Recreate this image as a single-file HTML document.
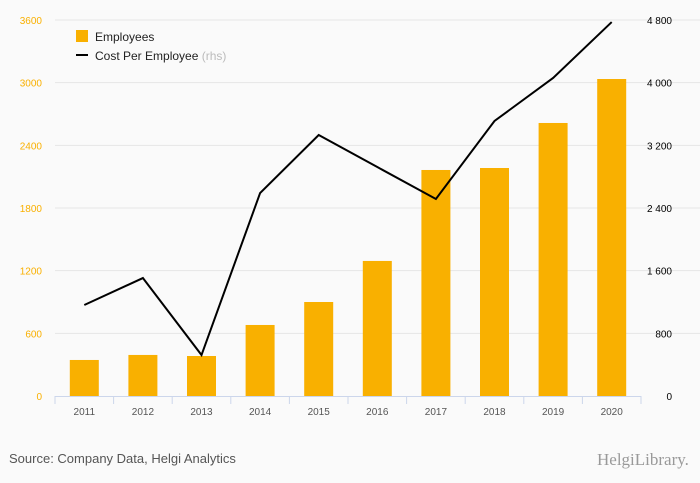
<!DOCTYPE html>
<html><head><meta charset="utf-8"><style>
body{margin:0;background:#fafafa;font-family:"Liberation Sans",sans-serif}
svg{display:block}
</style></head><body>
<svg id="c" width="700" height="483">
<rect width="700" height="483" fill="#fafafa"/>
<g id="grid"></g><g id="bars"></g><g id="line"></g><g id="axes"></g>
<g>
<rect x="76" y="30" width="12" height="12" fill="#f9b000"/>
<text x="95" y="41" font-size="12" fill="#222">Employees</text>
<rect x="76" y="54" width="12" height="2" fill="#000"/>
<text x="95" y="60" font-size="12" fill="#222">Cost Per Employee <tspan fill="#bbb">(rhs)</tspan></text>
</g>
<text x="9" y="463" font-size="13" fill="#555">Source: Company Data, Helgi Analytics</text>
<text x="597" y="465" font-size="17" fill="#999" font-family="Liberation Serif,serif">HelgiLibrary.</text>
</svg>
<script>
const years=["2011","2012","2013","2014","2015","2016","2017","2018","2019","2020"];
const employees=[345,393,383,680,900,1293,2164,2183,2614,3035];
const costPerEmployee=[1162,1506,523,2591,3332,2923,2515,3511,4060,4774];
const leftTicks=[0,600,1200,1800,2400,3000,3600];
const rightTicks=[0,800,1600,2400,3200,4000,4800];
const rightTickLabels=["0","800","1 600","2 400","3 200","4 000","4 800"];
const NS="http://www.w3.org/2000/svg";
const x0=55,x1=641,yT=20,yB=396;
const band=(x1-x0)/years.length;
const xC=i=>x0+band*(i+0.5);
const yL=v=>yB-(v/3600)*(yB-yT);
const yR=v=>yB-(v/4800)*(yB-yT);
function mk(t,a,p){const e=document.createElementNS(NS,t);for(const k in a)e.setAttribute(k,a[k]);p.appendChild(e);return e;}
const g=document.getElementById('grid'),b=document.getElementById('bars'),l=document.getElementById('line'),ax=document.getElementById('axes');
leftTicks.forEach((v,i)=>{
 if(v>0){const ln=mk('line',{x1:x0,x2:700,y1:yL(v),y2:yL(v),stroke:'#e6e6e6'},g);
 
 }
 const t=mk('text',{x:42,y:yL(v)+4,'font-size':10,fill:'#f9b000','text-anchor':'end'},ax);t.textContent=v;
 
 
});
rightTicks.forEach((v,i)=>{
 const t=mk('text',{x:672,y:yR(v)+4,'font-size':10,fill:'#000','text-anchor':'end'},ax);t.textContent=rightTickLabels[i];
 
 
});
years.forEach((y,i)=>{
 const r=mk('rect',{x:xC(i)-14.5,y:yL(employees[i]),width:29,height:yB-yL(employees[i]),fill:'#f9b000'},b);
 
 
 const t=mk('text',{x:xC(i),y:415,'font-size':10,fill:'#555','text-anchor':'middle'},ax);t.textContent=y;
 
 
 const tk=mk('line',{x1:x0+band*i,x2:x0+band*i,y1:yB,y2:yB+8,stroke:'#ccd6eb'},ax);
 
 
});
const tk=mk('line',{x1:x1,x2:x1,y1:yB,y2:yB+8,stroke:'#ccd6eb'},ax);


const axl=mk('line',{x1:x0,x2:x1,y1:yB+0.5,y2:yB+0.5,stroke:'#ccd6eb'},ax);


const p=mk('polyline',{points:costPerEmployee.map((v,i)=>xC(i)+','+yR(v)).join(' '),fill:'none',stroke:'#000','stroke-width':2},l);


</script>
</body></html>
